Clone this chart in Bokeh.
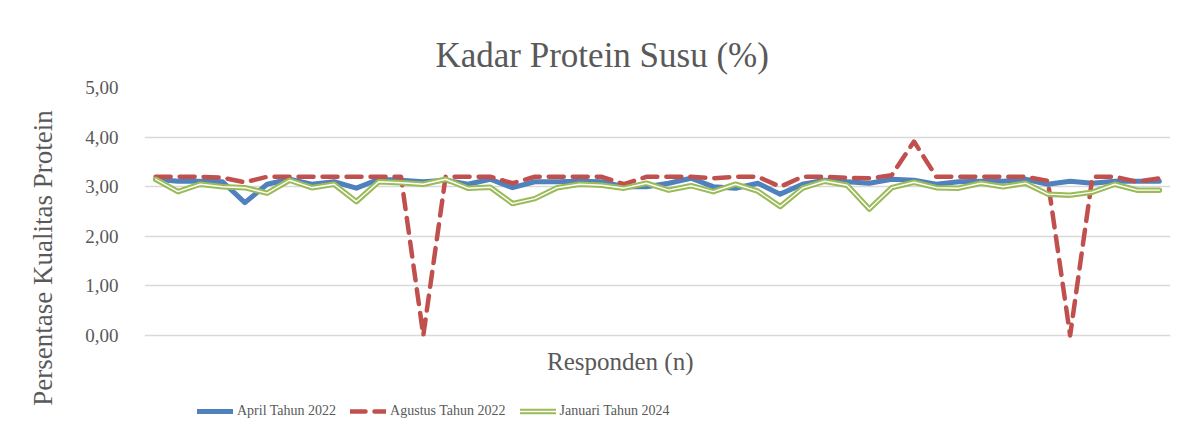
from bokeh.plotting import figure
from bokeh.models import Range1d, FixedTicker, Legend, LegendItem, Label, ColumnDataSource
from bokeh.embed import file_html
from bokeh.resources import INLINE

# ---- data ----
responden = list(range(1, 47))
april_2022 = [3.15, 3.11, 3.11, 3.10, 2.68, 3.05, 3.15, 3.05, 3.10, 2.97,
              3.15, 3.13, 3.10, 3.13, 3.05, 3.15, 2.98, 3.10, 3.10, 3.11,
              3.10, 3.00, 3.00, 3.07, 3.17, 3.00, 2.97, 3.07, 2.85, 3.05,
              3.13, 3.10, 3.07, 3.15, 3.13, 3.05, 3.10, 3.11, 3.11, 3.15,
              3.05, 3.11, 3.07, 3.11, 3.11, 3.11]
agustus_2022 = [3.20, 3.20, 3.20, 3.18, 3.09, 3.20, 3.20, 3.20, 3.20, 3.20,
                3.20, 3.20, 0.00, 3.20, 3.20, 3.20, 3.07, 3.20, 3.20, 3.20,
                3.20, 3.05, 3.20, 3.20, 3.20, 3.17, 3.20, 3.20, 3.00, 3.20,
                3.20, 3.18, 3.17, 3.23, 3.91, 3.20, 3.20, 3.20, 3.20, 3.20,
                3.12, 0.00, 3.20, 3.20, 3.10, 3.17]
januari_2024 = [3.15, 2.90, 3.05, 3.00, 2.98, 2.87, 3.13, 2.98, 3.05, 2.70,
                3.10, 3.08, 3.05, 3.15, 2.97, 2.99, 2.66, 2.76, 2.98, 3.05,
                3.03, 2.97, 3.07, 2.93, 3.02, 2.90, 3.05, 2.91, 2.60, 2.97,
                3.11, 3.03, 2.55, 2.98, 3.09, 2.98, 2.97, 3.07, 3.00, 3.07,
                2.85, 2.83, 2.89, 3.05, 2.93, 2.93]
y_ticks = [0, 1, 2, 3, 4, 5]
y_tick_labels = ["0,00", "1,00", "2,00", "3,00", "4,00", "5,00"]
series_names = ["April Tahun 2022", "Agustus Tahun 2022", "Januari Tahun 2024"]
title_text = "Kadar Protein Susu (%)"
x_title = "Responden (n)"
y_title = "Persentase Kualitas Protein"

FONT = "Liberation Serif"
GREY = "#595959"

# layout (pixels): value 5 at top of frame, value 0 at 248 px below it;
# the frame extends further down to hold the x title and legend
TOP, ZERO_Y, BOTTOM = 87, 335, 428
px_per_unit = (ZERO_Y - TOP) / 5.0
y_start = -(BOTTOM - ZERO_Y) / px_per_unit

src = ColumnDataSource(dict(x=[r - 1 for r in responden], a=april_2022,
                            g=agustus_2022, j=januari_2024))

p = figure(width=1171, height=430, output_backend="svg", toolbar_location=None,
           x_range=Range1d(-0.5, len(responden) - 0.5),
           y_range=Range1d(y_start, 5),
           min_border_left=144, min_border_right=1, min_border_top=TOP,
           min_border_bottom=430 - BOTTOM)
p.outline_line_color = None
p.background_fill_color = "white"
p.border_fill_color = "white"

p.xaxis.visible = False
p.xgrid.grid_line_color = None
p.ygrid.grid_line_color = "#d9d9d9"
p.ygrid.grid_line_width = 1.3

p.yaxis.ticker = FixedTicker(ticks=y_ticks)
p.yaxis.major_label_overrides = {t: l for t, l in zip(y_ticks, y_tick_labels)}
p.yaxis.axis_line_color = None
p.yaxis.major_tick_line_color = None
p.yaxis.minor_tick_line_color = None
p.yaxis.major_label_standoff = 20
p.yaxis.major_label_text_font = FONT
p.yaxis.major_label_text_font_size = "19px"
p.yaxis.major_label_text_color = GREY
p.yaxis.axis_label = y_title
p.yaxis.axis_label_standoff = 24
p.yaxis.axis_label_text_font = FONT
p.yaxis.axis_label_text_font_size = "27px"
p.yaxis.axis_label_text_font_style = "normal"
p.yaxis.axis_label_text_color = GREY

r_a = p.line("x", "a", source=src, line_color="#4f81bd", line_width=5,
             line_join="round", line_cap="round")
r_g = p.line("x", "g", source=src, line_color="#c0504d", line_width=4.5,
             line_dash="15 9", line_join="round", line_cap="round")
r_j = p.line("x", "j", source=src, line_color="#9bbb59", line_width=5.5,
             line_join="round", line_cap="round")
r_j2 = p.line("x", "j", source=src, line_color="white", line_width=1.4,
              line_join="round", line_cap="round")

# title
p.title.text = title_text
p.title.align = "left"
p.title.offset = 291
p.title.standoff = 25
p.title.text_font = FONT
p.title.text_font_size = "35px"
p.title.text_font_style = "normal"
p.title.text_color = GREY

# x title, inside the extended frame under the zero line
p.add_layout(Label(x=20.83, y=-(361 - ZERO_Y) / px_per_unit, text=x_title,
                   text_align="center", text_baseline="middle",
                   text_font=FONT, text_font_size="25px", text_color=GREY))

legend = Legend(items=[LegendItem(label=series_names[0], renderers=[r_a]),
                       LegendItem(label=series_names[1], renderers=[r_g]),
                       LegendItem(label=series_names[2], renderers=[r_j, r_j2])],
                orientation="horizontal", location=(53, 7),
                padding=0, margin=0, spacing=14, glyph_width=36, glyph_height=20,
                label_standoff=4, border_line_alpha=0, background_fill_alpha=0,
                label_text_font=FONT, label_text_font_size="14px",
                label_text_color=GREY)
p.add_layout(legend, "center")

open("out.html", "w").write(file_html(p, INLINE))
